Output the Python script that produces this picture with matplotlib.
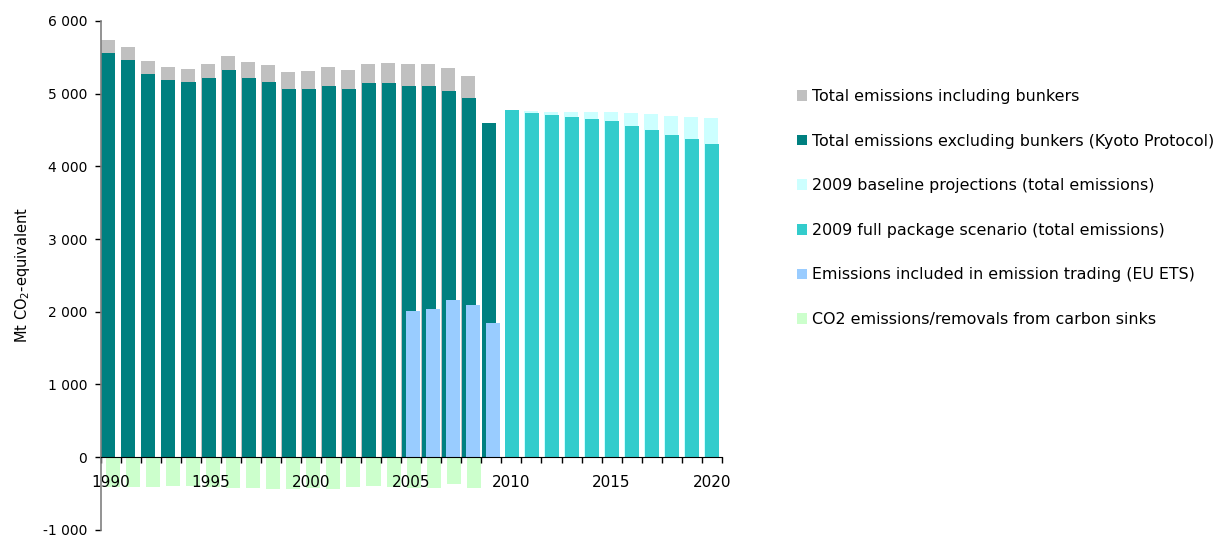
import numpy as np
import matplotlib
matplotlib.use("Agg")
import matplotlib.pyplot as plt
from matplotlib.patches import Patch
from matplotlib.ticker import FuncFormatter, MultipleLocator

# historic inventory years
hist_years = list(range(1990, 2010))
total_incl_bunkers = [5740, 5640, 5450, 5365, 5340, 5410, 5520, 5435, 5395, 5300,
                      5310, 5365, 5325, 5410, 5420, 5410, 5410, 5355, 5245, 4600]
total_excl_bunkers = [5560, 5465, 5270, 5190, 5160, 5215, 5325, 5215, 5160, 5065,
                      5065, 5105, 5065, 5145, 5145, 5105, 5105, 5035, 4940, 4600]

# projections
proj_years = list(range(2010, 2021))
baseline_2009 = [4760, 4760, 4745, 4745, 4745, 4745, 4735, 4720, 4690, 4680, 4665]
full_package_2009 = [4775, 4735, 4705, 4680, 4650, 4625, 4555, 4500, 4430, 4375, 4305]

# EU ETS
ets_years = list(range(2005, 2010))
ets_emissions = [2010, 2035, 2160, 2090, 1845]

# carbon sinks
sink_years = list(range(1990, 2009))
sink_values = [-410, -410, -410, -395, -395, -410, -420, -420, -435, -435,
               -420, -435, -410, -395, -410, -420, -420, -365, -420]

labels = [
    "Total emissions including bunkers",
    "Total emissions excluding bunkers (Kyoto Protocol)",
    "2009 baseline projections (total emissions)",
    "2009 full package scenario (total emissions)",
    "Emissions included in emission trading (EU ETS)",
    "CO2 emissions/removals from carbon sinks",
]
colors = ["#C0C0C0", "#008080", "#CCFFFF", "#33CCCC", "#99CCFF", "#CCFFCC"]

plt.rcParams["font.family"] = ["DejaVu Sans"]

fig = plt.figure(figsize=(12.19, 5.36), dpi=100)
ax = fig.add_axes([101 / 1219, 6.3 / 536, 620.7 / 1219, 508.7 / 536])

width = 0.7
offsets = [0.0, 0.02, 0.12, 0.17, 0.22, 0.26]
series = [
    (hist_years[:-1], total_incl_bunkers[:-1]),
    (hist_years, total_excl_bunkers),
    (proj_years[1:], baseline_2009[1:]),
    (proj_years, full_package_2009),
    (ets_years, ets_emissions),
    (sink_years, sink_values),
]
for (yrs, vals), off, col in zip(series, offsets, colors):
    x = np.array(yrs) - 0.5 + off
    ax.bar(x, vals, width=width, align="edge", color=col, linewidth=0, zorder=1)

ax.set_xlim(1989.5, 2020.5)
ax.set_ylim(-1000, 6000)

for s in ["top", "right"]:
    ax.spines[s].set_visible(False)
ax.spines["bottom"].set_position(("data", 0))
ax.spines["bottom"].set_color("black")
ax.spines["left"].set_color("#808080")
ax.spines["left"].set_linewidth(1.2)

ax.yaxis.set_major_locator(MultipleLocator(1000))
ax.yaxis.set_major_formatter(FuncFormatter(lambda v, p: f"{int(v):,}".replace(",", " ")))
ax.tick_params(axis="y", length=4, width=1, color="black", pad=6, labelsize=10)

ax.set_xticks(range(1990, 2021, 5))
ax.set_xticks(np.arange(1989.5, 2021, 1), minor=True)
ax.tick_params(axis="x", which="major", length=0, pad=13, labelsize=11)
ax.tick_params(axis="x", which="minor", length=4, width=1, color="black")

ax.set_ylabel("Mt CO$_2$-equivalent", fontsize=10.5, labelpad=8)

handles = [Patch(facecolor=c, edgecolor="none") for c in colors]
fig.legend(handles, labels, loc="upper left", bbox_to_anchor=(797 / 1219, 1 - 89 / 536),
           frameon=False, fontsize=11.4, handlelength=0.65, handleheight=0.65,
           handletextpad=0.3, labelspacing=1.87, borderpad=0, borderaxespad=0)

fig.savefig("out.png", dpi=100)
